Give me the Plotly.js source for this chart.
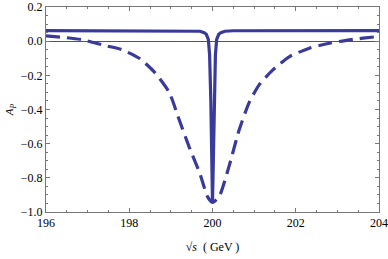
<!DOCTYPE html>
<html>
<head>
<meta charset="utf-8">
<script src="https://cdn.plot.ly/plotly-3.0.1.min.js"></script>
<style>html,body{margin:0;padding:0;background:#fff;}</style>
</head>
<body>
<div id="chart" style="width:388px;height:259px;"></div>
<script>
// Solid curve (narrow resonance)
const solidX = [196, 199.5, 199.7, 199.8, 199.85, 199.9, 199.93, 199.96, 199.98, 200, 200.02, 200.04, 200.07, 200.1, 200.15, 200.2, 200.3, 200.5, 204];
const solidY = [0.062, 0.061, 0.058, 0.05, 0.04, 0.01, -0.08, -0.35, -0.7, -0.944, -0.7, -0.35, -0.08, 0.01, 0.04, 0.05, 0.058, 0.061, 0.062];
// Dashed curve (broad resonance)
const dashX = [196.0, 196.5, 196.88, 197.44, 197.8, 198.24, 198.6, 198.96, 199.2, 199.44, 199.69, 199.88, 200.0, 200.16, 200.4, 200.64, 200.88, 201.12, 201.45, 201.85, 202.33, 202.81, 203.29, 203.97, 204.0];
const dashY = [0.031, 0.02, 0.008, -0.027, -0.048, -0.10, -0.18, -0.30, -0.46, -0.62, -0.77, -0.91, -0.944, -0.91, -0.73, -0.52, -0.36, -0.256, -0.168, -0.09, -0.041, -0.012, 0.008, 0.027, 0.028];
const xTicks = [196, 198, 200, 202, 204];
const yTicks = [0.2, 0.0, -0.2, -0.4, -0.6, -0.8, -1.0];

const lineColor = 'rgb(58,58,155)';
const traces = [
  {x: dashX, y: dashY, mode: 'lines', line: {color: lineColor, width: 3.2, dash: '14px,7px', shape: 'spline', smoothing: 0.6}, hoverinfo: 'skip'},
  {x: solidX, y: solidY, mode: 'lines', line: {color: lineColor, width: 3.2}, hoverinfo: 'skip'}
];
const serif = 'Liberation Serif';
const axisFont = {family: serif, size: 12, color: '#000'};
const layout = {
  width: 388, height: 259,
  margin: {l: 46, r: 9, t: 7, b: 47},
  paper_bgcolor: '#fff', plot_bgcolor: '#fff',
  showlegend: false,
  font: {family: serif, size: 12, color: '#000'},
  xaxis: {
    range: [196, 204], tickvals: xTicks, ticktext: xTicks.map(String),
    ticks: 'inside', ticklen: 4, tickcolor: '#777', tickwidth: 1,
    minor: {dtick: 0.5, tick0: 196, ticks: 'inside', ticklen: 2, tickcolor: '#777', showgrid: false},
    showline: true, linecolor: '#777', linewidth: 1, mirror: 'ticks',
    showgrid: false, zeroline: false, tickfont: axisFont,
    title: {text: '√<i>s</i>  ( GeV )', font: {family: serif, size: 12, color: '#000'}, standoff: 13}
  },
  yaxis: {
    range: [-1, 0.2], tickvals: yTicks, ticktext: yTicks.map(v => (v < 0 ? '\u2212' : '') + Math.abs(v).toFixed(1)),
    ticks: 'inside', ticklen: 4, tickcolor: '#777', tickwidth: 1,
    minor: {dtick: 0.05, tick0: 0, ticks: 'inside', ticklen: 2, tickcolor: '#777', showgrid: false},
    showline: true, linecolor: '#777', linewidth: 1, mirror: 'ticks',
    showgrid: false, zeroline: true, zerolinecolor: '#555', zerolinewidth: 1,
    tickfont: axisFont,
    title: {text: '<i>A</i><sub><i>P</i></sub>', font: {family: serif, size: 11, color: '#000'}, standoff: 4}
  }
};
Plotly.newPlot('chart', traces, layout, {staticPlot: true, displayModeBar: false});
</script>
</body>
</html>
